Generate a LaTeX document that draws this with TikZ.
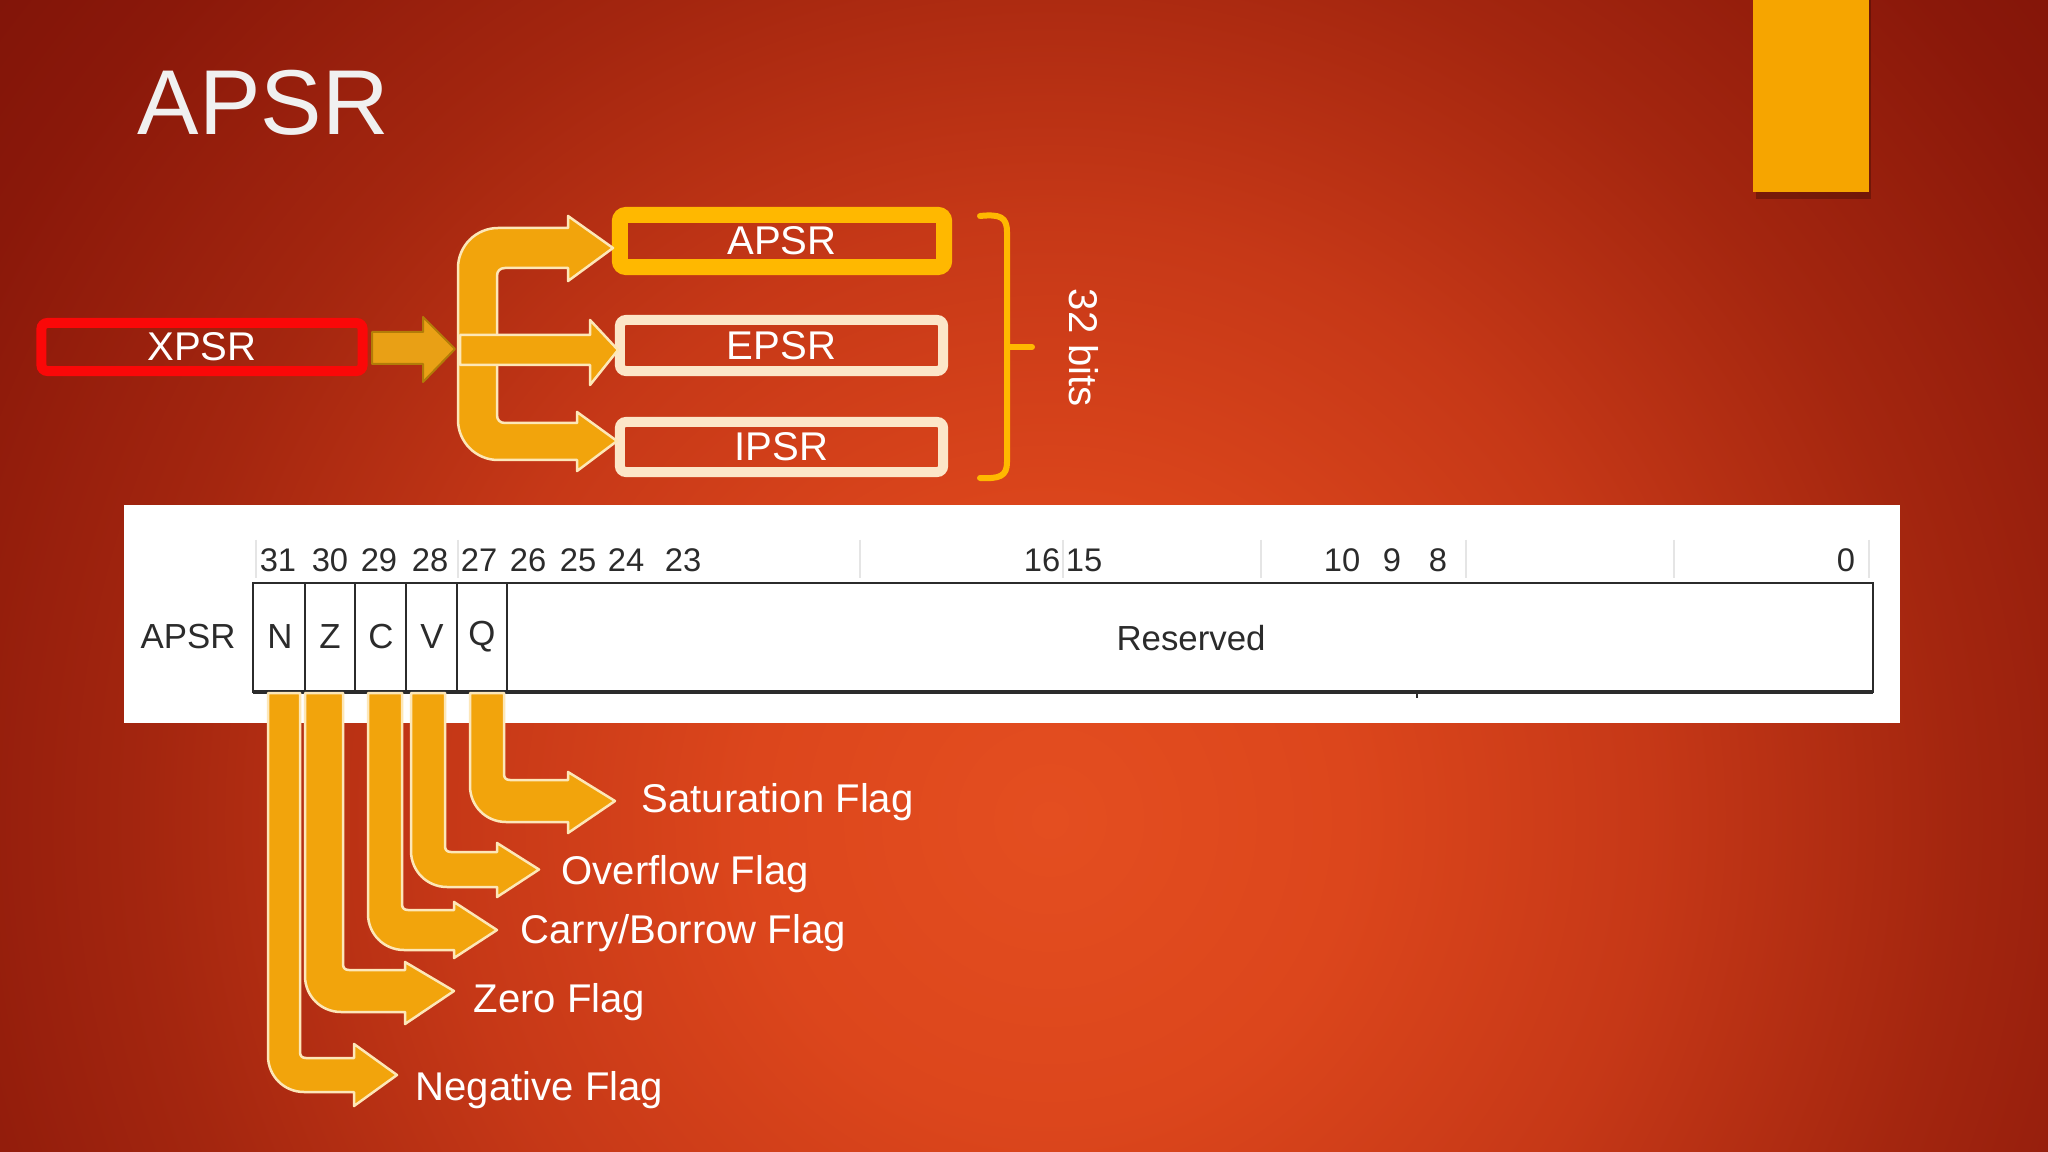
\documentclass[tikz,border=0pt]{standalone}
\usepackage{fontspec}
\setmainfont{Liberation Sans}
\usetikzlibrary{calc}
\definecolor{bgA}{RGB}{228,78,32}
\definecolor{bgB}{RGB}{220,70,28}
\definecolor{bgC}{RGB}{198,56,23}
\definecolor{bgD}{RGB}{164,38,15}
\definecolor{bgE}{RGB}{138,24,10}
\definecolor{bgF}{RGB}{120,17,7}
\definecolor{barfill}{RGB}{242,164,12}
\definecolor{cream}{RGB}{253,231,184}
\definecolor{gold}{RGB}{255,184,0}
\definecolor{boxcream}{RGB}{252,230,200}
\definecolor{xred}{RGB}{250,8,8}
\definecolor{xarrow}{RGB}{233,160,21}
\definecolor{xarrowline}{RGB}{178,124,8}
\definecolor{tabtxt}{RGB}{43,43,43}
\definecolor{titlecol}{RGB}{240,240,240}
\definecolor{tabcol}{RGB}{246,165,0}
\pgfdeclareradialshading{bgshade}{\pgfpoint{0bp}{0bp}}{color(0bp)=(bgA); color(85bp)=(bgB); color(170bp)=(bgC); color(255bp)=(bgD); color(340bp)=(bgE); color(425bp)=(bgF); color(460bp)=(bgF)}
\tikzset{
  fatarrow/.style={fill=barfill, draw=cream, line width=0.025cm, line join=round},
  regbox/.style={draw=#1, line width=0.1cm, rounded corners=0.06cm, inner sep=0pt},
  boxtxt/.style={text=white, font=\fontsize{11.4pt}{13pt}\selectfont, inner sep=0pt},
  flaglbl/.style={text=white, font=\fontsize{11.4pt}{13pt}\selectfont, inner sep=0pt, anchor=base west},
  tabtext/.style={text=tabtxt, font=\fontsize{9.9pt}{11pt}\selectfont, inner sep=0pt},
  bitnum/.style={text=tabtxt, font=\fontsize{9.3pt}{11pt}\selectfont, inner sep=0pt},
  faint/.style={draw=black!10, line width=0.015cm}
}
\newcommand{\flagarrow}[9]{%
  \draw[fatarrow] (#1,#3) -- (#1,{#5-36}) .. controls (#1,{#5-16}) and ({#1+16},#5) .. ({#1+36},#5)
    -- (#6,#5) -- (#6,#9) -- (#7,{(#4+#5)/2}) -- (#6,#8) -- (#6,#4) -- ({#2+6},#4)
    .. controls ({#2+2},#4) and (#2,{#4-2}) .. (#2,{#4-6}) -- (#2,#3) -- cycle;}
\begin{document}
\begin{tikzpicture}[x=0.01cm, y=-0.01cm]
\useasboundingbox (0,0) rectangle (2048,1152);
% background
\begin{scope}
  \clip (0,0) rectangle (2048,1152);
  \fill[bgF] (0,0) rectangle (2048,1152);
  \node[inner sep=0pt, outer sep=0pt] (bgglow) at (1050,820) {\pgfuseshading{bgshade}};
\end{scope}
% top right tab
\fill[black, opacity=0.25] (1756,0) rectangle (1871,199);
\fill[tabcol] (1753,0) rectangle (1869,192);
% title
\node[text=titlecol, font=\fontsize{26.2pt}{30pt}\selectfont, inner sep=0pt, anchor=base west] (title) at (137,135) {APSR};

% boxes
\node[regbox=xred, minimum width=3.21cm, minimum height=0.48cm] (xpsr) at (202,347) {};
\node[boxtxt] (xpsrt) at (xpsr.center) {XPSR};
\node[regbox=gold, line width=0.16cm, minimum width=3.24cm, minimum height=0.52cm] (apsr) at (782,241) {};
\node[boxtxt] (apsrt) at (apsr.center) {APSR};
\node[regbox=boxcream, minimum width=3.23cm, minimum height=0.51cm] (epsr) at (781.5,345.5) {};
\node[boxtxt] (epsrt) at (epsr.center) {EPSR};
\node[regbox=boxcream, minimum width=3.23cm, minimum height=0.50cm] (ipsr) at (781.5,447) {};
\node[boxtxt] (ipsrt) at (ipsr.center) {IPSR};

% arrow from XPSR
\draw[fill=xarrow, draw=xarrowline, line width=0.02cm, line join=round]
  (372,332) -- (423,332) -- (423,317) -- (455,349) -- (423,382) -- (423,364) -- (372,364) -- cycle;

% split bracket arrow
\draw[fatarrow] (568,228) -- (498,228) .. controls (476,228) and (458,246) .. (458,268)
  -- (458,420) .. controls (458,442) and (476,460) .. (498,460)
  -- (577,460) -- (577,471) -- (617,441) -- (577,412) -- (577,423) -- (505,423)
  .. controls (500,423) and (497,420) .. (497,415) -- (497,276)
  .. controls (497,271) and (500,268) .. (505,268) -- (568,268) -- (568,281) -- (613,248) -- (568,216) -- cycle;
\draw[fatarrow] (460,335) -- (590,335) -- (590,320) -- (618,350) -- (590,385) -- (590,365) -- (460,365) -- cycle;

% brace
\draw[gold, line width=0.06cm, line cap=round, line join=round]
  (980,216) .. controls (1000,214) and (1007,217) .. (1007,232) -- (1007,462)
  .. controls (1007,476) and (1000,479) .. (980,478);
\draw[gold, line width=0.06cm, line cap=round] (1007,347) -- (1032,347);
\node[text=white, font=\fontsize{11.4pt}{13pt}\selectfont, inner sep=0pt, rotate=-90] (bits) at (1084,348) {32 bits};

% white panel
\node[fill=white, minimum width=17.75cm, minimum height=2.18cm, inner sep=0pt, anchor=north west] (panel) at (123,504) {};
% faint header lines
\foreach \xx in {256,458,860,1063,1261,1466,1674,1869}
  \draw[faint] (\xx,540) -- (\xx,578);
% register box
\draw[draw=tabtxt, line width=0.025cm] (253,583) rectangle (1873,692);
\draw[draw=tabtxt, line width=0.035cm] (253,692) -- (1873,692);
\foreach \xx in {305,355,406,457,507}
  \draw[draw=tabtxt, line width=0.02cm] (\xx,583) -- (\xx,692);
\draw[draw=tabtxt, line width=0.02cm] (1417,692) -- (1417,698);
\node[tabtext] (lapsr) at (188,637) {APSR};
\node[tabtext] (fn) at (280,637) {N};
\node[tabtext] (fz) at (330,637) {Z};
\node[tabtext] (fc) at (381,637) {C};
\node[tabtext] (fv) at (432,637) {V};
\node[tabtext] (fq) at (482,637) {Q};
\node[tabtext] (res) at (1191,638) {Reserved};
\foreach \xx/\tt in {278/31,330/30,379/29,430/28,479/27,528/26,578/25,626/24,683/23,1042/16,1084/15,1342/10,1392/9,1438/8,1846/0}
  \node[bitnum] at (\xx,560) {\tt};

% flag arrows: xl xr ytop yin yout hx tip hy1 hy2
\flagarrow{268}{300}{693}{1058}{1092}{354}{397}{1044}{1106}
\flagarrow{305}{343}{693}{970}{1012}{405}{454}{962}{1024}
\flagarrow{368}{402}{693}{910}{950}{454}{497}{902}{958}
\flagarrow{411}{445}{693}{852}{887}{497}{539}{843}{897}
\flagarrow{470}{504}{693}{780}{822}{568}{615}{772}{833}

% flag labels
\node[flaglbl] (sat) at (641,812) {Saturation Flag};
\node[flaglbl] (ovf) at (561,884) {Overflow Flag};
\node[flaglbl] (car) at (520,943) {Carry/Borrow Flag};
\node[flaglbl] (zer) at (473,1012) {Zero Flag};
\node[flaglbl] (neg) at (415,1100) {Negative Flag};
\end{tikzpicture}
\end{document}
